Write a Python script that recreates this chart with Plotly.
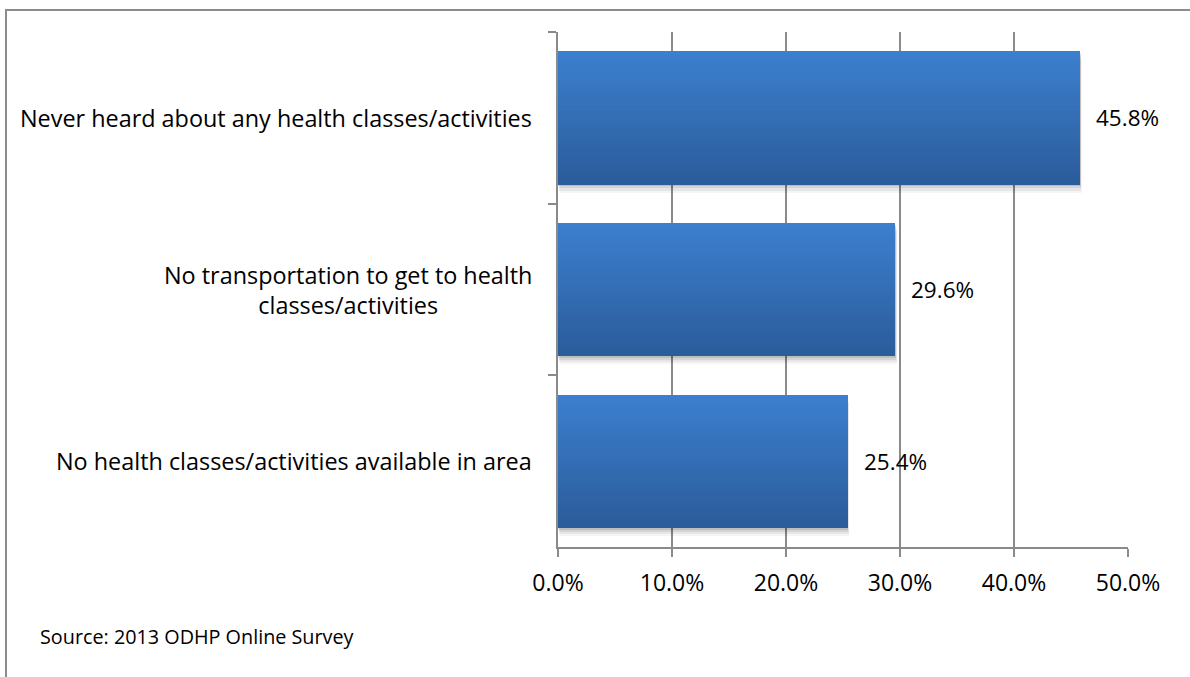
import plotly.graph_objects as go

# Survey results: barriers to attending health classes/activities
categories = [
    "Never heard about any health classes/activities",
    "No transportation to get to health<br>classes/activities",
    "No health classes/activities available in area",
]
values = [45.8, 29.6, 25.4]
x_ticks = [0, 10, 20, 30, 40, 50]
x_tick_labels = ["0.0%", "10.0%", "20.0%", "30.0%", "40.0%", "50.0%"]
source_note = "Source: 2013 ODHP Online Survey"

W, H = 1190, 677
L, R, T, B = 558, 62, 32, 130
plot_w = W - L - R
plot_h = H - T - B

FONT = "Open Sans"
GRID = "#8a8a8a"

bar_w = 0.775
n_bands = 40
top_rgb = (60, 127, 206)
bot_rgb = (43, 92, 155)

fig = go.Figure()

# soft drop shadow under each bar
for k, (dy, op) in enumerate([(0.012, 0.10), (0.024, 0.08), (0.036, 0.06), (0.048, 0.04)]):
    fig.add_trace(go.Bar(
        y=categories, x=values, base=0.15 * (k + 1) / 4, orientation="h",
        width=bar_w, offset=-bar_w / 2 + dy,
        marker=dict(color=f"rgba(0,0,0,{op})", line=dict(width=0)),
        hoverinfo="skip", showlegend=False,
    ))

# vertical gradient fill built from horizontal bands
band = bar_w / n_bands
for i in range(n_bands):
    t = i / (n_bands - 1)
    c = tuple(round(a + (b - a) * t) for a, b in zip(top_rgb, bot_rgb))
    fig.add_trace(go.Bar(
        y=categories, x=values, orientation="h",
        width=band * 1.05, offset=-bar_w / 2 + i * band,
        marker=dict(color=f"rgb{c}", line=dict(width=0)),
        hoverinfo="skip", showlegend=False,
    ))

annotations = []
# category labels, centred line by line
for cat in categories:
    annotations.append(dict(
        x=0, xref="paper", y=cat, yref="y", xanchor="right", yanchor="middle",
        xshift=-24, text=cat, showarrow=False, align="center",
        font=dict(family=FONT, size=23.4, color="#000000"),
    ))
# value labels beside each bar
for cat, v in zip(categories, values):
    annotations.append(dict(
        x=v, xref="x", y=cat, yref="y", xanchor="left", yanchor="middle",
        xshift=14, text=f"{v:.1f}%", showarrow=False,
        font=dict(family=FONT, size=22.5, color="#000000"),
    ))
annotations.append(dict(
    x=(38 - L) / plot_w, xref="paper", y=(H - B - 636) / plot_h, yref="paper",
    xanchor="left", yanchor="middle", text=source_note, showarrow=False,
    font=dict(family=FONT, size=19.8, color="#000000"),
))

fig.update_layout(
    width=W, height=H,
    margin=dict(l=L, r=R, t=T, b=B, pad=0),
    paper_bgcolor="white", plot_bgcolor="white",
    barmode="overlay", bargap=0,
    showlegend=False,
    annotations=annotations,
    shapes=[dict(
        type="rect", xref="paper", yref="paper",
        x0=(6 - L) / plot_w, x1=(W + 5 - L) / plot_w,
        y0=(H - B - (H + 5)) / plot_h, y1=(H - B - 10) / plot_h,
        line=dict(color="#8c8c8c", width=2), fillcolor="rgba(0,0,0,0)", layer="below",
    )],
    xaxis=dict(
        range=[0, 50], tickvals=x_ticks, ticktext=x_tick_labels,
        showgrid=True, gridcolor=GRID, gridwidth=1.5,
        showline=True, linecolor=GRID, linewidth=1.5,
        ticks="outside", ticklen=8, tickcolor=GRID, tickwidth=1.5,
        ticklabelstandoff=7,
        zeroline=False, fixedrange=True,
        tickfont=dict(family=FONT, size=23, color="#000000"),
    ),
    yaxis=dict(
        type="category", autorange="reversed",
        showticklabels=False, showgrid=False,
        showline=True, linecolor=GRID, linewidth=1.5,
        ticks="outside", ticklen=8, tickcolor=GRID, tickwidth=1.5,
        tickson="boundaries", fixedrange=True,
    ),
)

fig.write_html("out.html")
